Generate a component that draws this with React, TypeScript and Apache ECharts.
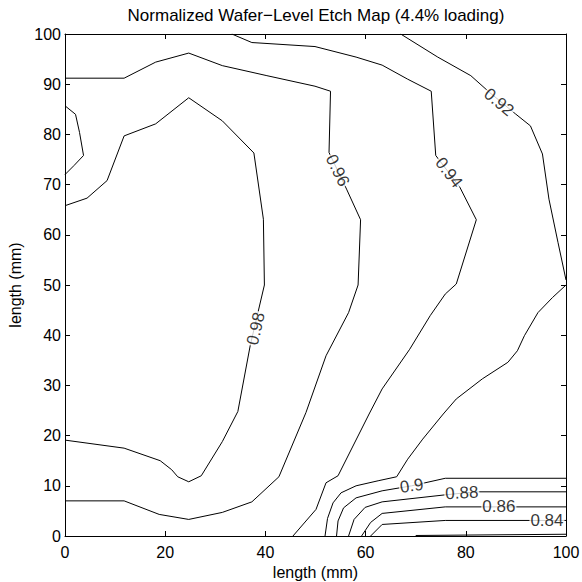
import React, { useEffect, useRef } from "react";
import * as echarts from "echarts";

const titleText = "Normalized Wafer\u2212Level Etch Map (4.4% loading)";
const xTicks = [0, 20, 40, 60, 80, 100];
const yTicks = [0, 10, 20, 30, 40, 50, 60, 70, 80, 90, 100];

const c098 = [[0,65.8],[4.4,67.3],[8.4,70.8],[11.8,79.7],[18.1,82.1],[24.7,87.3],[31.4,82.7],[37.7,76.3],[39.6,63.1],[39.8,50],[37,38.1],[34.5,24.8],[31.4,18.8],[27.2,12],[24.7,10.8],[22.5,11.8],[21.3,13.2],[19,15],[11.8,17.5],[0,19.1]];
const c098b = [[0,85.7],[2.1,84],[2.9,80.4],[3.7,75.8],[1.8,73.8],[0,72]];
const c096 = [[0,91.2],[11.8,91.2],[18.1,94.4],[24.7,96.2],[31.4,93.7],[40.3,91.7],[49.9,89.6],[53,88.6],[52.7,76.4],[56.2,69.1],[59,63],[58.5,50],[56.6,44.5],[52.1,35.9],[48.1,24.6],[42.7,11.8],[37.3,6.8],[31.4,4.7],[24.7,3.3],[18.8,4.3],[11.8,7],[0,7]];
const c094 = [[33.3,100],[37.3,98.3],[49.9,97.5],[58.1,95.4],[63.3,93.8],[68.4,91],[73.1,88.6],[74,75.8],[78.8,69.5],[82.1,63],[78.1,50.2],[75.9,48.2],[72.9,43.9],[68.8,37.2],[63.3,29.3],[60.7,24.3],[54.5,12],[52.1,10.6],[50.1,5.3],[45.5,0]];
const c092a = [[67,100],[74.4,95.4],[81,91.7],[84.7,88.4],[89.9,84.1],[92.9,81.7],[95.3,76.1],[96.6,67.1],[98.4,58.5],[100,51]];
const c092b = [[100,50],[97.3,47.5],[94.4,44.5],[91.7,39.9],[90.3,36.9],[88.4,34.6],[83.3,31.3],[78.1,27.3],[75.5,24.3],[71.4,19.3],[68.4,15.3],[66.2,11.8],[62.5,11],[58.1,10],[55.1,8.6],[53.5,6.6],[52.4,3.5],[51.9,0]];
const c090 = [[100,11.5],[75.9,11.5],[69.2,10],[63.3,9],[58.1,7.6],[55.6,5.6],[54.5,3],[54.2,0]];
const c088 = [[100,8.8],[82,8.8],[75.9,8.2],[63.3,6.8],[59.9,5.7],[57.7,3.3],[56.6,0]];
const c086 = [[100,5.8],[75.9,5.8],[63.3,4.5],[61,2.7],[59.2,0]];
const c084 = [[100,3.1],[75.9,3.1],[63.3,2.3],[61,0]];
const c082 = [[70,0.1],[100,0.35]];

const contours = [c098, c098b, c096, c094, c092a, c092b, c090, c088, c086, c084, c082];

const labelNames = ["0.98", "0.96", "0.94", "0.92", "0.9", "0.88", "0.86", "0.84"];
const labelX = [38.1, 54.4, 76.6, 86.6, 69.2, 79.2, 86.6, 96.2];
const labelY = [41.3, 72.8, 72.4, 86.4, 10, 8.6, 5.8, 3.1];
const labelRot = [77, -64, -53, -40, 8, 3, 0, 0];

const FONT = "'Liberation Sans', Arial, Helvetica, sans-serif";

export default function App() {
  const ref = useRef<HTMLDivElement>(null);
  useEffect(() => {
    if (!ref.current) return;
    const chart = echarts.init(ref.current, undefined, { renderer: "svg" });
    const axisBase = {
      type: "value" as const,
      min: 0,
      max: 100,
      axisLine: { show: true, onZero: false, lineStyle: { color: "#000", width: 1 } },
      axisTick: { show: true, inside: true, length: 5, lineStyle: { color: "#000" } },
      splitLine: { show: false },
    };
    chart.setOption({
      animation: false,
      backgroundColor: "#fff",
      textStyle: { fontFamily: FONT },
      graphic: [
        {
          type: "text",
          x: 316,
          y: 7,
          silent: true,
          style: {
            text: titleText,
            fill: "#000",
            font: "17px " + FONT,
            textAlign: "center",
            textVerticalAlign: "top",
          },
        },
      ],
      grid: {
        left: 65, right: 16, top: 34, bottom: 46,
        containLabel: false,
        outerBoundsMode: "none",
      },
      xAxis: [
        {
          ...axisBase,
          position: "bottom",
          interval: 20,
          axisLabel: {
            color: "#000", fontSize: 16, fontFamily: FONT, margin: 8,
            customValues: xTicks,
          },
          name: "length (mm)",
          nameLocation: "middle",
          nameGap: 27,
          nameTextStyle: { color: "#000", fontSize: 16, fontFamily: FONT },
        },
        {
          ...axisBase,
          position: "top",
          interval: 20,
          axisLabel: { show: false },
        },
      ],
      yAxis: [
        {
          ...axisBase,
          position: "left",
          interval: 10,
          axisLabel: {
            color: "#000", fontSize: 16, fontFamily: FONT, margin: 4,
            customValues: yTicks,
          },
          name: "length (mm)",
          nameLocation: "middle",
          nameGap: 42,
          nameTextStyle: { color: "#000", fontSize: 16, fontFamily: FONT },
        },
        {
          ...axisBase,
          position: "right",
          interval: 10,
          axisLabel: { show: false },
        },
      ],
      series: [
        ...contours.map((c) => ({
          type: "line",
          xAxisIndex: 0,
          yAxisIndex: 0,
          data: c,
          symbol: "none",
          smooth: false,
          clip: true,
          silent: true,
          lineStyle: { color: "#000", width: 1 },
          z: 2,
        })),
        {
          type: "scatter",
          xAxisIndex: 0,
          yAxisIndex: 0,
          symbolSize: 0,
          silent: true,
          z: 5,
          data: labelNames.map((n, i) => ({
            name: n,
            value: [labelX[i], labelY[i]],
            label: { rotate: labelRot[i] },
          })),
          label: {
            show: true,
            position: "inside",
            formatter: "{b}",
            color: "#000",
            fontSize: 17,
            fontFamily: FONT,
            textBorderWidth: 0,
            textBorderColor: "transparent",
            backgroundColor: "#fff",
            padding: [0, 1],
          },
        },
      ],
    });
    return () => chart.dispose();
  }, []);
  return (
    <div
      ref={ref}
      style={{ position: "fixed", left: 0, top: 0, width: 582, height: 582 }}
    />
  );
}
